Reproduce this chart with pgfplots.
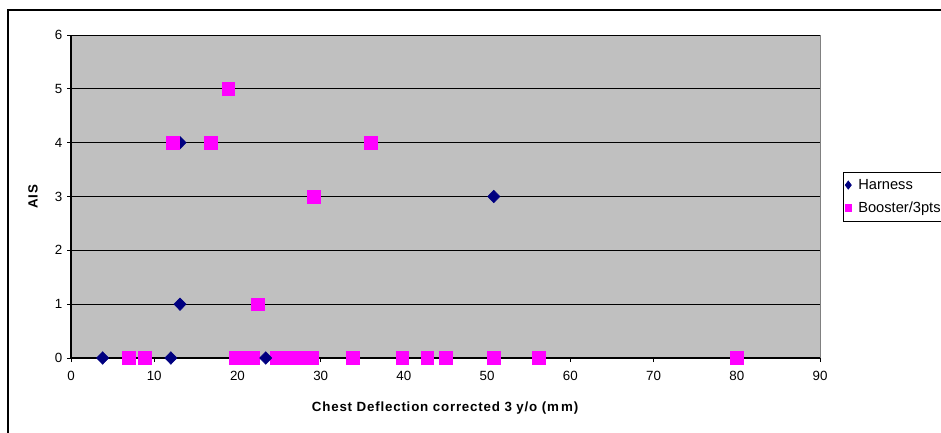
\documentclass[border=0pt]{standalone}
\usepackage{pgfplots}
\pgfplotsset{compat=1.18}
\usepackage{fontspec}
\setmainfont{Liberation Sans}
\definecolor{navyc}{RGB}{0,0,128}
\definecolor{magc}{RGB}{255,0,255}
\definecolor{bgc}{RGB}{192,192,192}
\begin{document}
\begin{tikzpicture}
\useasboundingbox (0,0) rectangle (705.75pt,324pt);
\draw[black, line width=0.8pt] (6pt,-10pt) rectangle (730pt,316.5pt);
\begin{axis}[
  at={(53.25pt,55.5pt)}, anchor=south west,
  scale only axis, width=561.75pt, height=242.25pt,
  xmin=0, xmax=90, ymin=0, ymax=6,
  xtick={0,10,...,90}, ytick={0,1,...,6},
  axis lines=left, axis line style={-, black, line width=0.8pt},
  axis background/.style={fill=bgc},
  ymajorgrids, major grid style={black, line width=0.6pt},
  tick align=outside, major tick length=3pt, tick style={black, line width=0.6pt},
  /pgf/number format/assume math mode=true,
  ticklabel style={font=\fontsize{10}{11}\selectfont},
  xticklabel style={yshift=-3pt},
  xlabel={\textbf{\addfontfeatures{LetterSpace=6}Chest Deflection corrected 3 y/o (m\,m)}},
  ylabel={\textbf{\addfontfeatures{LetterSpace=6}AIS}},
  label style={font=\fontsize{10}{11}\selectfont},
  xlabel style={at={(axis description cs:0.5,0)}, anchor=center, yshift=-37.5pt},
  ylabel style={at={(axis description cs:0,0.5)}, anchor=center, yshift=28.5pt},
  clip=false,
  legend style={at={(1.031,0.576)}, anchor=north west, draw=black, line width=0.6pt,
    font=\fontsize{11}{13}\selectfont, fill=white, row sep=4pt,
    inner xsep=1pt, inner ysep=3pt, cells={anchor=west}},
  legend cell align=left,
  after end axis/.code={\draw[color=gray, line width=0.6pt] (rel axis cs:1,0) -- (rel axis cs:1,1);},
]
\addplot[only marks, mark=square*, mark size=4.8pt, color=magc, forget plot] coordinates {
(6.9,0) (8.9,0) (19.8,0) (20.8,0) (21.8,0) (24.7,0) (25.8,0) (27.0,0) (28.0,0) (28.9,0)
(33.9,0) (39.8,0) (42.8,0) (45.0,0) (50.8,0) (56.2,0) (80.0,0)
(22.4,1) (29.2,3) (12.2,4) (16.8,4) (36.0,4) (18.9,5)
};
\addplot[only marks, mark=diamond*, mark size=4.7pt, mark options={xscale=1.3}, color=navyc, forget plot] coordinates {
(3.8,0) (12.0,0) (23.4,0) (13.1,1) (13.1,4) (50.8,3)
};
\addplot[only marks, mark=square*, mark size=4.8pt, color=magc, forget plot] coordinates {(12.2,4)};
\addlegendimage{only marks, mark=diamond*, mark size=3pt, color=navyc}
\addlegendentry{\hspace{3pt}Harness}
\addlegendimage{only marks, mark=square*, mark size=2.5pt, color=magc}
\addlegendentry{\hspace{3pt}Booster/3pts}
\end{axis}
\end{tikzpicture}
\end{document}
